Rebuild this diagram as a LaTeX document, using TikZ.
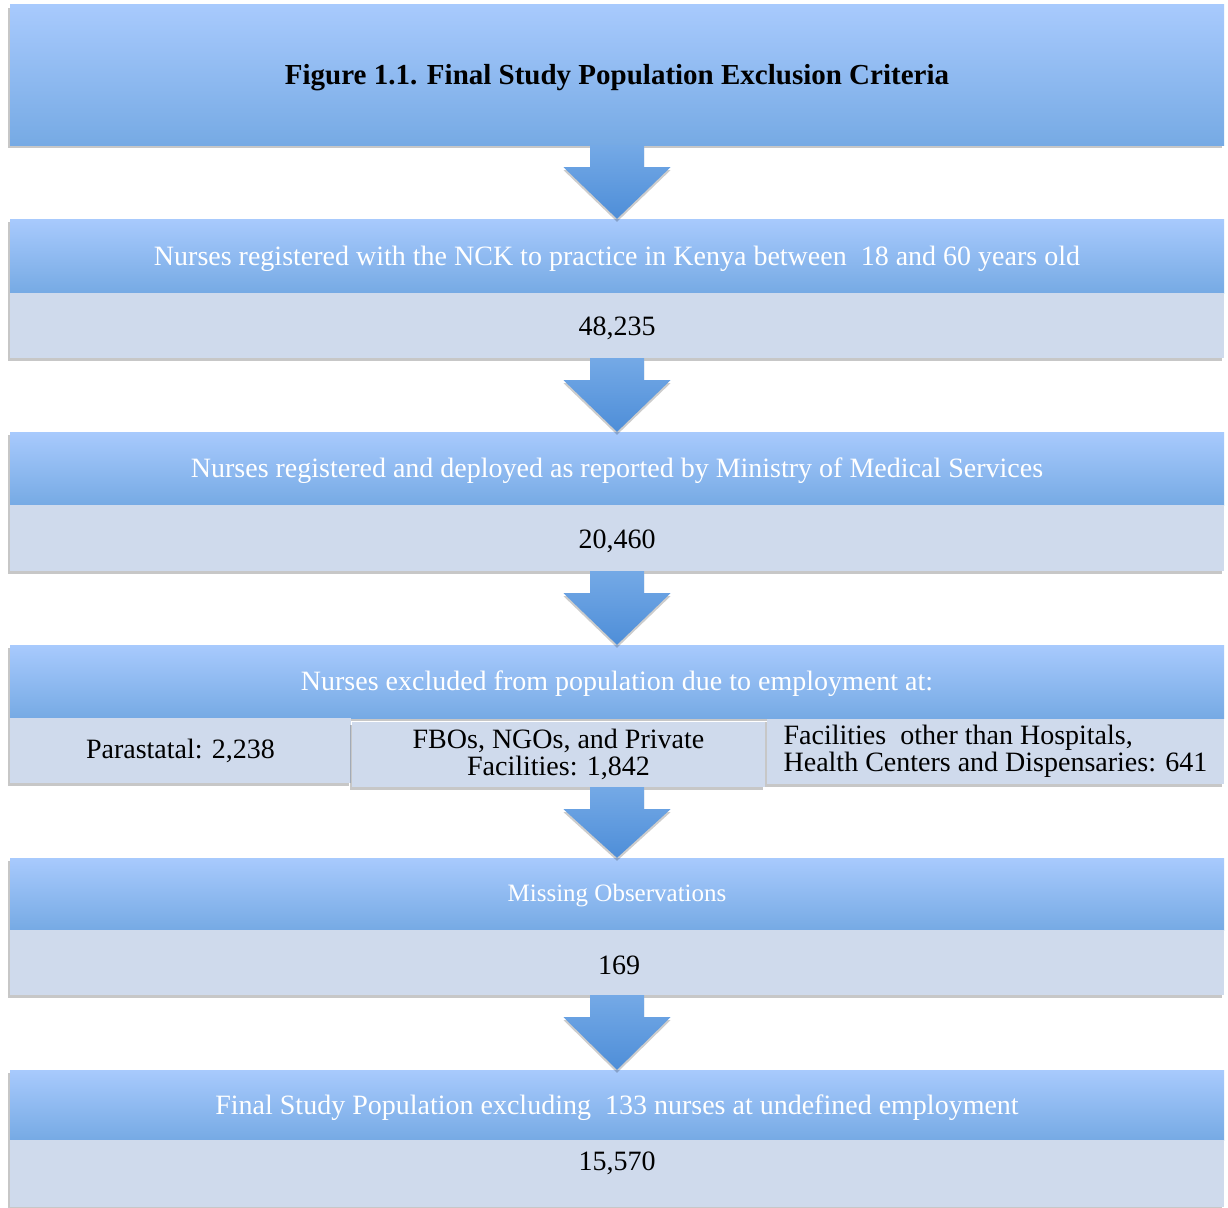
\documentclass[tikz,border=0pt]{standalone}
\usepackage{fontspec}
\setmainfont{Liberation Serif}
\usetikzlibrary{shadows,calc}
\definecolor{hdtop}{HTML}{A8CAFD}
\definecolor{hdbot}{HTML}{76AAE4}
\definecolor{bodyc}{HTML}{CFDAEC}
\definecolor{arrtop}{HTML}{74A9E6}
\definecolor{arrbot}{HTML}{4E8ED8}
\tikzset{
  myshadow/.style={drop shadow={shadow xshift=-2pt, shadow yshift=-3pt, opacity=0.22, fill=black}},
  hdr/.style={minimum width=1214pt, inner sep=0pt, top color=hdtop, bottom color=hdbot, myshadow,
    font=\fontsize{28}{30}\selectfont, text=white},
  bodybox/.style={minimum width=1214pt, inner sep=0pt, fill=bodyc, myshadow,
    font=\fontsize{28}{30}\selectfont, text=black},
  cell/.style={inner sep=0pt, fill=bodyc, myshadow, font=\fontsize{28}{27}\selectfont, text=black, align=center},
  txt/.style={inner sep=0pt, font=\fontsize{28}{30}\selectfont},
  arrfill/.style={top color=arrtop, bottom color=arrbot,
    drop shadow={shadow xshift=0pt, shadow yshift=-3pt, opacity=0.2, fill=black}}
}
\newcommand\blkarrow[2]{%
  \coordinate (ab) at (#1.south -| #2.north);
  \shade[arrfill] ($(ab)+(-27,0)$) -- ($(ab)+(27,0)$) -- ($(ab)+(27,22)$)
    -- ($(ab)+(53.5,22)$) -- (#2.north) -- ($(ab)+(-53.5,22)$)
    -- ($(ab)+(-27,22)$) -- cycle;}
\begin{document}
\begin{tikzpicture}[x=1pt,y=-1pt]
\useasboundingbox[fill=white] (0,0) rectangle (1228,1207);
% title
\node[hdr, minimum height=140pt] (title) at (617,75) {};
\node[txt, font=\fontsize{29}{30}\selectfont\bfseries] (tt) at (617,78) {Figure 1.1. Final Study Population Exclusion Criteria};
% block 2
\node[hdr, minimum height=74pt] (h2) at (617,256) {};
\node[txt, text=white] (t2) at (617,259) {Nurses registered with the NCK to practice in Kenya between\ \ 18 and 60 years old};
\node[bodybox, minimum height=65pt] (b2) at (617,325.5) {};
\node[txt] (n2) at (617,328) {48,235};
% block 3
\node[hdr, minimum height=73pt] (h3) at (617,468.5) {};
\node[txt, text=white] (t3) at (617,471) {Nurses registered and deployed as reported by Ministry of Medical Services};
\node[bodybox, minimum height=66pt] (b3) at (617,538) {};
\node[txt] (n3) at (617,541) {20,460};
% block 4
\node[hdr, minimum height=73pt] (h4) at (617,681.5) {};
\node[txt, text=white] (t4) at (617,684) {Nurses excluded from population due to employment at:};
\node[cell, minimum width=341pt, minimum height=65pt] (p1) at (180.5,750.5) {Parastatal: 2,238};
\node[cell, minimum width=457pt, minimum height=65pt, align=left] (p3) at (995.5,751.5) {Facilities\ \ other than Hospitals,\\Health Centers and Dispensaries: 641};
\node[cell, minimum width=413pt, minimum height=65pt] (p2) at (558.5,754.5) {FBOs, NGOs, and Private\\Facilities: 1,842};
% block 5
\node[hdr, minimum height=72pt] (h5) at (617,894) {};
\node[txt, text=white, font=\fontsize{25}{28}\selectfont] (t5) at (617,896) {Missing Observations};
\node[bodybox, minimum height=65pt] (b5) at (617,962.5) {};
\node[txt] (n5) at (619,965) {169};
% block 6
\node[hdr, minimum height=70pt] (h6) at (617,1105) {};
\node[txt, text=white] (t6) at (617,1108) {Final Study Population excluding\ \ 133 nurses at undefined employment};
\node[bodybox, minimum height=67pt] (b6) at (617,1173.5) {};
\node[txt] (n6) at (617,1163) {15,570};
% arrows
\blkarrow{title}{h2}
\blkarrow{b2}{h3}
\blkarrow{b3}{h4}
\blkarrow{p2}{h5}
\blkarrow{b5}{h6}
\end{tikzpicture}
\end{document}
